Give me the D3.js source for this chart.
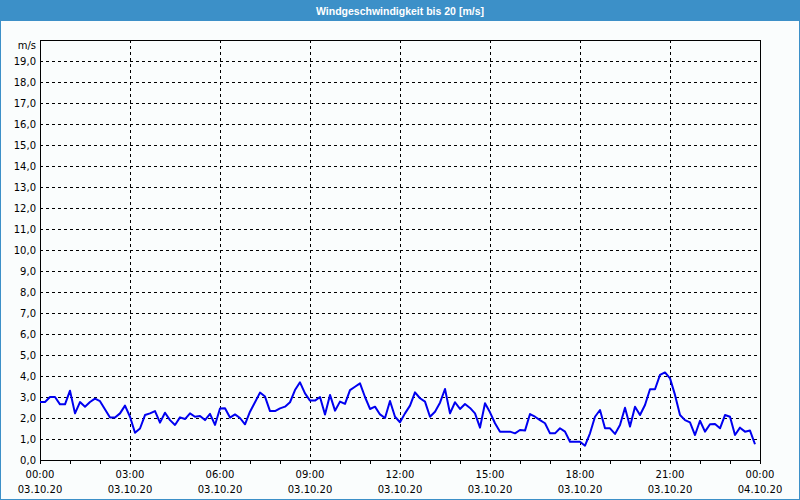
<!DOCTYPE html>
<html>
<head>
<meta charset="utf-8">
<script src="https://cdn.jsdelivr.net/npm/d3@7"></script>
<style>
html,body{margin:0;padding:0;background:#fafdfd;}
svg{display:block;}
</style>
</head>
<body>
<script>
// ---- data ----
const title = "Windgeschwindigkeit bis 20 [m/s]";
const unitLabel = "m/s";
// minutes since 03.10.20 00:00
const minutes = [0,10,20,30,40,50,60,70,80,90,100,110,120,140,150,160,170,180,190,200,210,220,230,240,250,260,270,280,290,300,310,320,330,340,350,360,370,380,390,400,410,420,430,440,450,460,470,480,490,500,510,520,530,540,550,560,570,580,590,600,610,620,630,640,650,660,670,680,690,700,710,720,730,740,750,760,770,780,790,800,810,820,830,840,850,860,870,880,890,900,910,920,930,940,950,960,970,980,990,1000,1010,1020,1030,1040,1050,1060,1070,1080,1090,1100,1110,1120,1130,1140,1150,1160,1170,1180,1190,1200,1210,1220,1230,1240,1250,1260,1270,1280,1290,1300,1310,1320,1330,1340,1350,1360,1370,1380,1390,1400,1410,1420,1430];
const speeds = [2.76,2.76,3.0,3.0,2.65,2.65,3.3,2.22,2.76,2.54,2.76,2.92,2.8,2.02,2.02,2.22,2.59,2.06,1.3,1.5,2.14,2.22,2.33,1.78,2.25,1.9,1.67,2.03,1.95,2.22,2.06,2.1,1.9,2.2,1.67,2.45,2.46,2.02,2.17,2.0,1.7,2.3,2.75,3.21,3.02,2.33,2.33,2.46,2.54,2.75,3.33,3.7,3.17,2.83,2.83,3.0,2.17,3.1,2.35,2.78,2.67,3.33,3.49,3.65,3.0,2.43,2.54,2.17,2.0,2.81,2.06,1.8,2.22,2.59,3.22,2.94,2.78,2.06,2.3,2.73,3.38,2.22,2.75,2.43,2.67,2.48,2.22,1.54,2.7,2.27,1.75,1.35,1.35,1.35,1.27,1.43,1.4,2.19,2.06,1.9,1.75,1.27,1.27,1.51,1.35,0.87,0.87,0.87,0.68,1.27,2.06,2.38,1.51,1.51,1.24,1.67,2.49,1.59,2.54,2.14,2.62,3.37,3.37,4.05,4.17,3.89,3.1,2.14,1.9,1.79,1.19,1.87,1.35,1.7,1.71,1.51,2.14,2.06,1.19,1.54,1.35,1.4,0.75];
const xTickTimes = ["00:00","03:00","06:00","09:00","12:00","15:00","18:00","21:00","00:00"];
const xTickDates = ["03.10.20","03.10.20","03.10.20","03.10.20","03.10.20","03.10.20","03.10.20","03.10.20","04.10.20"];
const yTicks = [0,1,2,3,4,5,6,7,8,9,10,11,12,13,14,15,16,17,18,19];

// ---- layout ----
const W = 800, H = 500;
const m = {left:40, right:40, top:40, bottom:40};
const blue = "#3c90c8";
const font = "'DejaVu Sans', Verdana, sans-serif";

const svg = d3.select("body").append("svg").attr("width", W).attr("height", H);

svg.append("rect").attr("x",0).attr("y",0).attr("width",W).attr("height",H).attr("fill","#fafdfd");
// title bar
svg.append("rect").attr("x",0).attr("y",0).attr("width",W).attr("height",21).attr("fill",blue);
// outer border
svg.append("rect").attr("x",0.5).attr("y",0.5).attr("width",W-1).attr("height",H-1)
  .attr("fill","none").attr("stroke",blue).attr("stroke-width",1);
svg.append("text").attr("x",W/2).attr("y",15).attr("text-anchor","middle")
  .attr("fill","#ffffff").attr("font-family","'Liberation Sans', Arial, sans-serif")
  .attr("font-weight","bold").attr("font-size","10.5px").text(title);

const x = d3.scaleLinear().domain([0,1440]).range([m.left, W-m.right]);
const y = d3.scaleLinear().domain([0,20]).range([H-m.bottom, m.top]);

const g = svg.append("g");
// horizontal grid
g.selectAll("line.hg").data(yTicks.filter(d=>d>0)).join("line")
  .attr("x1",x(0)).attr("x2",x(1440))
  .attr("y1",d=>Math.round(y(d))+0.5).attr("y2",d=>Math.round(y(d))+0.5)
  .attr("stroke","#000").attr("stroke-dasharray","3,3").attr("shape-rendering","crispEdges");
// vertical grid
const gridMins = d3.range(180,1440,180);
g.selectAll("line.vg").data(gridMins).join("line")
  .attr("x1",d=>Math.round(x(d))+0.5).attr("x2",d=>Math.round(x(d))+0.5)
  .attr("y1",y(20)).attr("y2",y(0))
  .attr("stroke","#000").attr("stroke-dasharray","3,3").attr("shape-rendering","crispEdges");

// x axis with hourly ticks
const xAxis = d3.axisBottom(x).tickValues(d3.range(0,1441,60)).tickSize(4).tickFormat("");
const xa = svg.append("g").attr("transform",`translate(0,${y(0)})`).call(xAxis);
xa.select(".domain").remove();
xa.selectAll("line").attr("stroke","#000").attr("shape-rendering","crispEdges");

// frame
svg.append("rect").attr("x",x(0)+0.5).attr("y",y(20)+0.5)
  .attr("width",x(1440)-x(0)).attr("height",y(0)-y(20))
  .attr("fill","none").attr("stroke","#000").attr("shape-rendering","crispEdges");

// y labels
const yAxis = d3.axisLeft(y).tickValues(yTicks).tickSize(0).tickPadding(4)
  .tickFormat(d=>d3.format(".1f")(d).replace(".",","));
const ya = svg.append("g").attr("transform",`translate(${x(0)},0)`).call(yAxis);
ya.select(".domain").remove();
ya.selectAll("text").attr("font-family",font).attr("font-size","10px").attr("fill","#000");
svg.append("text").attr("x",x(0)-4).attr("y",y(20)+6).attr("dy","0.32em").attr("text-anchor","end")
  .attr("font-family",font).attr("font-size","10px").attr("fill","#000").text(unitLabel);

// x labels
const labMins = d3.range(0,1441,180);
svg.selectAll("text.xt").data(labMins).join("text")
  .attr("x",d=>x(d)).attr("y",y(0)+15).attr("dy","0.32em").attr("text-anchor","middle")
  .attr("font-family",font).attr("font-size","10px").attr("fill","#000")
  .text((d,i)=>xTickTimes[i]);
svg.selectAll("text.xd").data(labMins).join("text")
  .attr("x",d=>x(d)).attr("y",y(0)+30).attr("dy","0.32em").attr("text-anchor","middle")
  .attr("font-family",font).attr("font-size","10px").attr("fill","#000")
  .text((d,i)=>xTickDates[i]);

// data line
const pts = minutes.map((t,i)=>[t,speeds[i]]);
svg.append("path").datum(pts)
  .attr("fill","none").attr("stroke","#0000f0").attr("stroke-width",2)
  .attr("stroke-linejoin","round")
  .attr("d", d3.line().x(d=>x(d[0])).y(d=>y(d[1])));
</script>
</body>
</html>
